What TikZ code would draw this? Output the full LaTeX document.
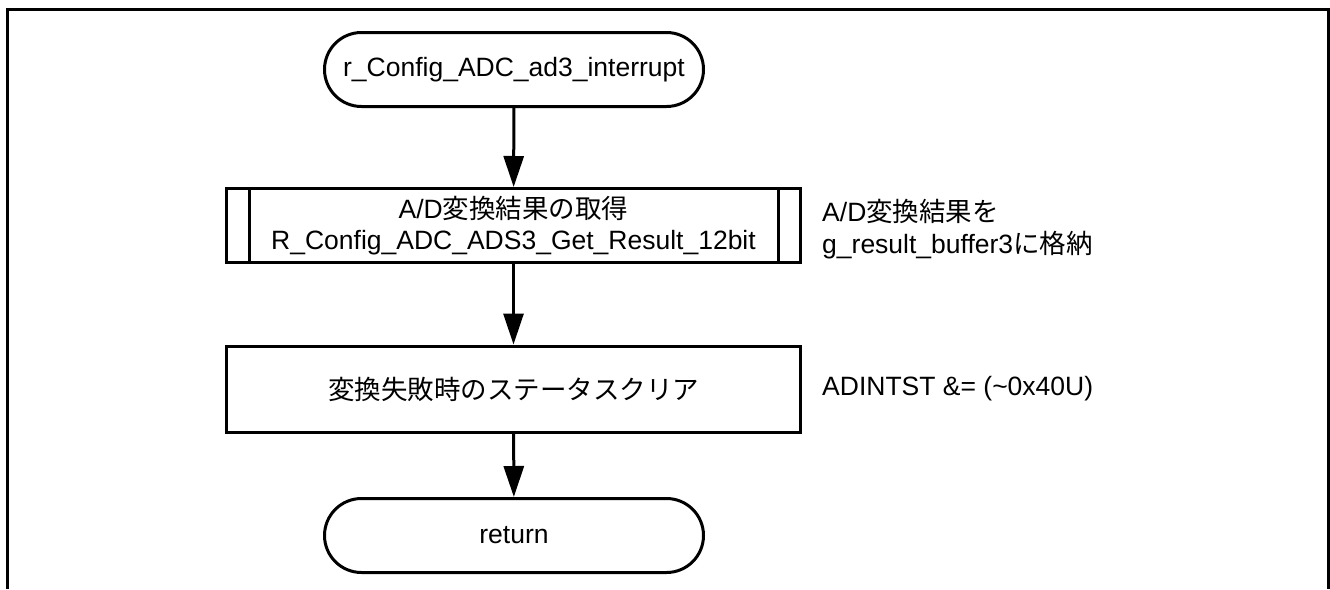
\documentclass[tikz,border=0pt]{standalone}
\usepackage{fontspec}
\setmainfont{Liberation Sans}
\newfontfamily\jp{Noto Sans CJK JP}
\usetikzlibrary{arrows.meta}
\tikzset{
  base/.style={draw, line width=3pt, font=\fontsize{26.5}{31.5}\selectfont, align=center, inner sep=0pt},
  term/.style={base, minimum width=379pt, minimum height=74pt, rounded corners=37pt},
  procbox/.style={base, minimum width=574pt},
  note/.style={font=\fontsize{26.5}{31.5}\selectfont, align=left, anchor=west, inner sep=0pt},
  flow/.style={line width=3pt, -{Triangle[width=20pt,length=31pt]}},
  frame/.style={line width=3pt}
}
\begin{document}
\begin{tikzpicture}[x=1pt,y=-1pt]
\useasboundingbox (0,0) rectangle (1330,589);
\draw[frame] (7.5,589) -- (7.5,9) -- (1328.5,9) -- (1328.5,589);
\node[term] (start) at (514,69.5) {r\_Config\_ADC\_ad3\_interrupt};
\node[procbox, minimum height=74pt] (b1) at (513.5,225.5) {A/D{\jp 変換結果の取得}\\R\_Config\_ADC\_ADS3\_Get\_Result\_12bit};
\draw[line width=3pt] ([xshift=24pt]b1.north west) -- ([xshift=24pt]b1.south west);
\draw[line width=3pt] ([xshift=-24pt]b1.north east) -- ([xshift=-24pt]b1.south east);
\node[procbox, minimum height=86pt] (b2) at (513.5,389) {{\jp 変換失敗時のステータスクリア}};
\node[term] (ret) at (514,535.5) {return};
\node[note] (n1) at (822,229) {A/D{\jp 変換結果を}\\g\_result\_buffer3{\jp に格納}};
\node[note] (n2) at (822,389) {ADINTST \&= (\textasciitilde 0x40U)};
\draw[flow] (start) -- (b1);
\draw[flow] (b1) -- (b2);
\draw[flow] (b2) -- (ret);
\end{tikzpicture}
\end{document}
